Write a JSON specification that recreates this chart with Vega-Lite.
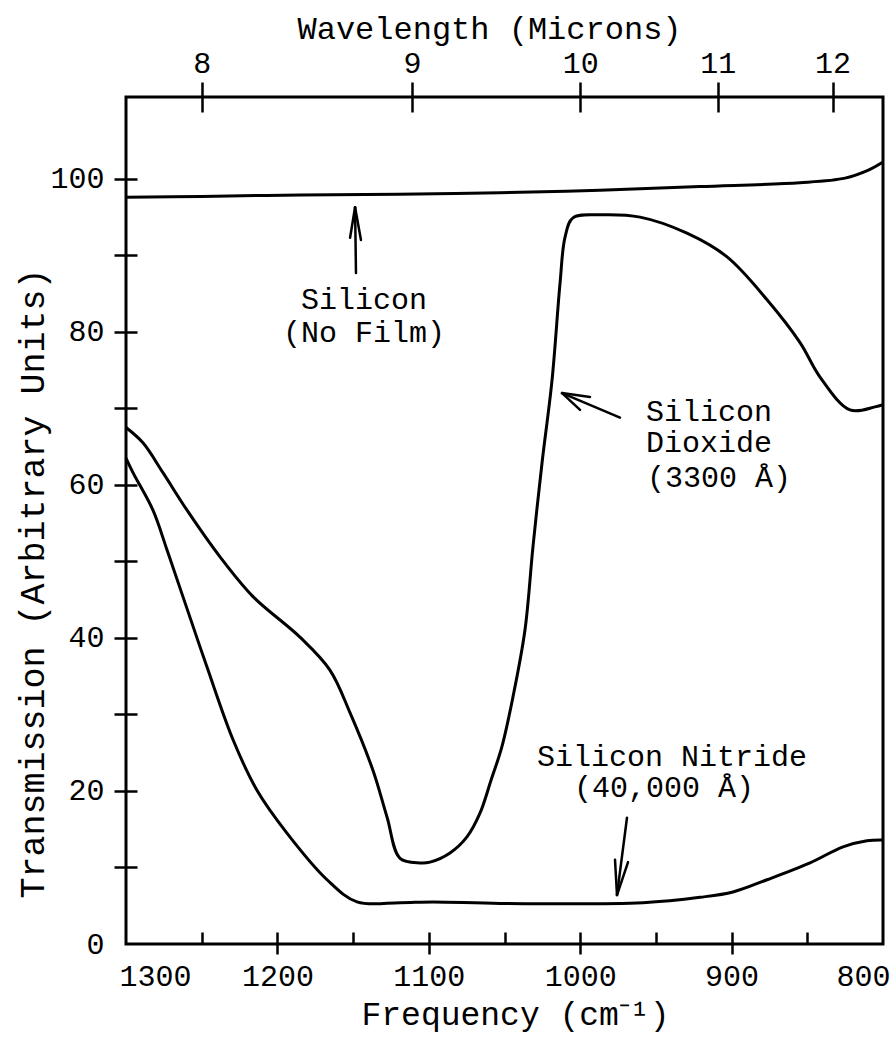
{
  "$schema": "https://vega.github.io/schema/vega-lite/v6.json",
  "width": 757,
  "height": 847,
  "autosize": {"type": "none"},
  "padding": {"left": 126, "top": 97, "right": 10, "bottom": 96},
  "background": "white",
  "config": {
    "view": {"stroke": "black", "strokeWidth": 3},
    "axis": {
      "domain": false,
      "grid": false,
      "labelFont": "Liberation Mono",
      "labelFontSize": 30,
      "labelColor": "black",
      "titleFont": "Liberation Mono",
      "titleFontSize": 32,
      "titleFontWeight": "normal",
      "titleColor": "black",
      "tickColor": "black",
      "tickWidth": 2.5,
      "labelFlush": false,
      "labelOverlap": false
    },
    "text": {"font": "Liberation Mono", "fontSize": 30, "color": "black"}
  },
  "resolve": {"axis": {"x": "independent", "y": "independent"}},
  "datasets": {
    "curves": [
      {"series": "Silicon", "f": 1300, "T": 97.6},
      {"series": "Silicon", "f": 1250, "T": 97.7},
      {"series": "Silicon", "f": 1185, "T": 97.9},
      {"series": "Silicon", "f": 1120, "T": 98.0},
      {"series": "Silicon", "f": 1053, "T": 98.2},
      {"series": "Silicon", "f": 987, "T": 98.5},
      {"series": "Silicon", "f": 921, "T": 99.0},
      {"series": "Silicon", "f": 855, "T": 99.5},
      {"series": "Silicon", "f": 825, "T": 100.1},
      {"series": "Silicon", "f": 810, "T": 101.1},
      {"series": "Silicon", "f": 800, "T": 102.2},
      {"series": "SiO2", "f": 1300, "T": 67.5},
      {"series": "SiO2", "f": 1288.8, "T": 65.5},
      {"series": "SiO2", "f": 1275.6, "T": 61.6},
      {"series": "SiO2", "f": 1259.7, "T": 56.7},
      {"series": "SiO2", "f": 1237.9, "T": 50.6},
      {"series": "SiO2", "f": 1216.1, "T": 45.4},
      {"series": "SiO2", "f": 1185.1, "T": 40.1},
      {"series": "SiO2", "f": 1165.3, "T": 35.8},
      {"series": "SiO2", "f": 1152.0, "T": 30.2},
      {"series": "SiO2", "f": 1136.9, "T": 22.7},
      {"series": "SiO2", "f": 1127.6, "T": 16.6},
      {"series": "SiO2", "f": 1119.0, "T": 11.2},
      {"series": "SiO2", "f": 1105.8, "T": 10.6},
      {"series": "SiO2", "f": 1099.2, "T": 10.7},
      {"series": "SiO2", "f": 1086.0, "T": 11.9},
      {"series": "SiO2", "f": 1074.8, "T": 14.0},
      {"series": "SiO2", "f": 1066.2, "T": 17.1},
      {"series": "SiO2", "f": 1058.9, "T": 21.4},
      {"series": "SiO2", "f": 1051.7, "T": 25.8},
      {"series": "SiO2", "f": 1044.4, "T": 32.3},
      {"series": "SiO2", "f": 1036.5, "T": 41.0},
      {"series": "SiO2", "f": 1031.2, "T": 51.9},
      {"series": "SiO2", "f": 1025.2, "T": 62.9},
      {"series": "SiO2", "f": 1018.6, "T": 73.7},
      {"series": "SiO2", "f": 1013.3, "T": 86.4},
      {"series": "SiO2", "f": 1010.0, "T": 92.4},
      {"series": "SiO2", "f": 1004.8, "T": 94.9},
      {"series": "SiO2", "f": 986.9, "T": 95.3},
      {"series": "SiO2", "f": 960.5, "T": 95.0},
      {"series": "SiO2", "f": 929.5, "T": 92.9},
      {"series": "SiO2", "f": 903.0, "T": 89.8},
      {"series": "SiO2", "f": 876.6, "T": 84.2},
      {"series": "SiO2", "f": 854.8, "T": 78.6},
      {"series": "SiO2", "f": 841.6, "T": 74.1},
      {"series": "SiO2", "f": 821.8, "T": 69.8},
      {"series": "SiO2", "f": 805.3, "T": 70.2},
      {"series": "SiO2", "f": 800, "T": 70.5},
      {"series": "Nitride", "f": 1300, "T": 63.5},
      {"series": "Nitride", "f": 1295.4, "T": 61.6},
      {"series": "Nitride", "f": 1282.2, "T": 56.7},
      {"series": "Nitride", "f": 1272.9, "T": 51.5},
      {"series": "Nitride", "f": 1262.4, "T": 45.4},
      {"series": "Nitride", "f": 1246.5, "T": 36.2},
      {"series": "Nitride", "f": 1229.3, "T": 26.7},
      {"series": "Nitride", "f": 1213.5, "T": 20.1},
      {"series": "Nitride", "f": 1193.7, "T": 14.5},
      {"series": "Nitride", "f": 1167.2, "T": 8.4},
      {"series": "Nitride", "f": 1147.4, "T": 5.5},
      {"series": "Nitride", "f": 1119.0, "T": 5.4},
      {"series": "Nitride", "f": 1097.2, "T": 5.5},
      {"series": "Nitride", "f": 1052.9, "T": 5.3},
      {"series": "Nitride", "f": 958.5, "T": 5.4},
      {"series": "Nitride", "f": 920.9, "T": 6.1},
      {"series": "Nitride", "f": 899.1, "T": 6.8},
      {"series": "Nitride", "f": 876.6, "T": 8.4},
      {"series": "Nitride", "f": 848.2, "T": 10.6},
      {"series": "Nitride", "f": 826.4, "T": 12.7},
      {"series": "Nitride", "f": 810.6, "T": 13.5},
      {"series": "Nitride", "f": 800, "T": 13.6}
    ],
    "labels": [
      {"text": "Silicon", "f": 1142.8, "T": 84.2},
      {"text": "(No Film)", "f": 1142.8, "T": 79.9},
      {"text": "Silicon", "f": 914.9, "T": 69.5},
      {"text": "Dioxide", "f": 914.9, "T": 65.5},
      {"text": "(3300 Å)", "f": 908.3, "T": 60.9},
      {"text": "Silicon Nitride", "f": 939.4, "T": 24.4},
      {"text": "(40,000 Å)", "f": 944.7, "T": 20.4}
    ],
    "arrows": [
      {"f": 1148.1, "T": 87.7, "f2": 1148.7, "T2": 96.3},
      {"f": 1152.0, "T": 92.3, "f2": 1148.7, "T2": 96.3},
      {"f": 1144.8, "T": 92.0, "f2": 1148.7, "T2": 96.3},
      {"f": 973.7, "T": 68.8, "f2": 1012.0, "T2": 72.0},
      {"f": 993.5, "T": 71.5, "f2": 1012.0, "T2": 72.0},
      {"f": 1000.1, "T": 69.8, "f2": 1012.0, "T2": 72.0},
      {"f": 969.1, "T": 16.5, "f2": 975.7, "T2": 6.4},
      {"f": 977.0, "T": 11.0, "f2": 975.7, "T2": 6.4},
      {"f": 968.4, "T": 10.7, "f2": 975.7, "T2": 6.4}
    ]
  },
  "layer": [
    {
      "data": {"name": "curves"},
      "transform": [{"filter": "datum.series === 'Silicon'"}],
      "mark": {"type": "line", "color": "black", "strokeWidth": 3, "interpolate": "catmull-rom"},
      "encoding": {
        "x": {
          "field": "f", "type": "quantitative",
          "scale": {"domain": [800, 1300], "reverse": true, "nice": false, "zero": false},
          "axis": {
            "orient": "bottom",
            "values": [1300, 1200, 1100, 1000, 900, 800],
            "format": "d",
            "ticks": false, "tickSize": 0,
            "labelPadding": 32, "labelBaseline": "middle",
            "labelFlush": true, "labelFlushOffset": 7,
            "title": "Frequency (cm⁻¹)",
            "titleFontSize": 33,
            "titleX": 389, "titleY": 70, "titleBaseline": "middle", "titleAlign": "center"
          }
        },
        "y": {
          "field": "T", "type": "quantitative",
          "scale": {"domain": [0, 110.7], "nice": false, "zero": true},
          "axis": {
            "orient": "left",
            "values": [0, 20, 40, 60, 80, 100],
            "ticks": false, "tickSize": 0,
            "labelPadding": 22,
            "title": "Transmission (Arbitrary Units)",
            "titleFontSize": 35,
            "titleX": -94, "titleY": 486, "titleAngle": 270,
            "titleBaseline": "middle", "titleAlign": "center"
          }
        }
      }
    },
    {
      "data": {"name": "curves"},
      "transform": [{"filter": "datum.series === 'SiO2'"}],
      "mark": {"type": "line", "color": "black", "strokeWidth": 3, "interpolate": "catmull-rom"},
      "encoding": {
        "x": {
          "field": "f", "type": "quantitative",
          "axis": {"orient": "bottom", "values": [1200, 1100, 1000, 900], "tickSize": 10, "labels": false, "title": null}
        },
        "y": {
          "field": "T", "type": "quantitative",
          "axis": {"orient": "left", "values": [10, 20, 30, 40, 50, 60, 70, 80, 90, 100], "tickSize": 12, "labels": false, "title": null}
        }
      }
    },
    {
      "data": {"name": "curves"},
      "transform": [{"filter": "datum.series === 'Nitride'"}],
      "mark": {"type": "line", "color": "black", "strokeWidth": 3, "interpolate": "catmull-rom"},
      "encoding": {
        "x": {
          "field": "f", "type": "quantitative",
          "axis": {"orient": "bottom", "values": [1250, 1200, 1150, 1100, 1050, 1000, 950, 900, 850], "tickSize": -12, "labels": false, "title": null}
        },
        "y": {
          "field": "T", "type": "quantitative",
          "axis": {"orient": "left", "values": [10, 20, 30, 40, 50, 60, 70, 80, 90, 100], "tickSize": -11, "labels": false, "title": null}
        }
      }
    },
    {
      "data": {"name": "labels"},
      "mark": {"type": "text", "align": "center", "baseline": "middle"},
      "encoding": {
        "x": {
          "field": "f", "type": "quantitative",
          "axis": {
            "orient": "top",
            "values": [1250, 1111.111, 1000, 909.0909, 833.3333],
            "labelExpr": "format(10000/datum.value, '.0f')",
            "tickSize": 15, "labelPadding": 19, "labelBaseline": "middle",
            "title": "Wavelength (Microns)",
            "titleX": 363, "titleY": -69, "titleBaseline": "middle", "titleAlign": "center"
          }
        },
        "y": {"field": "T", "type": "quantitative", "axis": null},
        "text": {"field": "text"}
      }
    },
    {
      "data": {"name": "arrows"},
      "mark": {"type": "rule", "color": "black", "strokeWidth": 2.5, "strokeCap": "round"},
      "encoding": {
        "x": {
          "field": "f", "type": "quantitative",
          "axis": {"orient": "top", "values": [1250, 1111.111, 1000, 909.0909, 833.3333], "tickSize": -15, "labels": false, "title": null}
        },
        "y": {"field": "T", "type": "quantitative", "axis": null},
        "x2": {"field": "f2"},
        "y2": {"field": "T2"}
      }
    }
  ]
}
